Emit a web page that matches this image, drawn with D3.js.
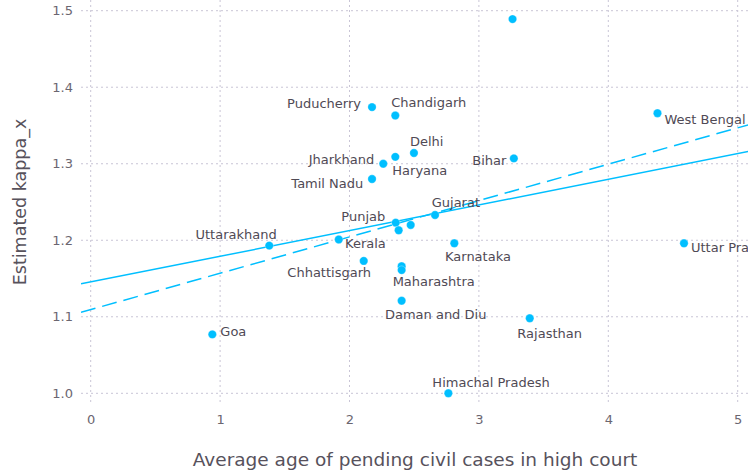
<!DOCTYPE html>
<html>
<head>
<meta charset="utf-8">
<script src="https://cdn.jsdelivr.net/npm/d3@7"></script>
<style>
  html, body { margin: 0; padding: 0; background: #fff; }
  svg { display: block; }
  text { font-family: "DejaVu Sans", Verdana, sans-serif; }
</style>
</head>
<body>
<svg id="chart" width="748" height="472"></svg>
<script>
// ---------- data ----------
const states = ["", "West Bengal", "Bihar", "Puducherry", "Chandigarh", "Delhi", "Jharkhand", "Haryana",
  "Tamil Nadu", "Gujarat", "Punjab", "", "", "Kerala", "Karnataka", "Chhattisgarh", "Maharashtra", "",
  "Daman and Diu", "Himachal Pradesh", "Rajasthan", "Uttar Pradesh", "Uttarakhand", "Goa"];
const avgAge = [3.26, 4.38, 3.27, 2.174, 2.354, 2.498, 2.261, 2.354,
  2.174, 2.661, 2.357, 2.473, 2.38, 1.917, 2.81, 2.11, 2.403, 2.403,
  2.403, 2.764, 3.393, 4.585, 1.38, 0.94];
const kappa = [1.489, 1.366, 1.307, 1.374, 1.363, 1.314, 1.300, 1.309,
  1.280, 1.233, 1.223, 1.220, 1.213, 1.201, 1.196, 1.173, 1.166, 1.161,
  1.121, 1.000, 1.098, 1.196, 1.193, 1.077];

const fitNames = ["solid", "dashed"];
const fitIntercepts = [1.1455, 1.1094];
const fitSlopes = [0.03356, 0.0475];

const xTicks = [0, 1, 2, 3, 4, 5];
const yTicks = [1.0, 1.1, 1.2, 1.3, 1.4, 1.5];
const xTitle = "Average age of pending civil cases in high court";
const yTitle = "Estimated kappa_x";

// ---------- label layout (pixel offsets from the point) ----------
const labelLayout = {
  "West Bengal": ["start", 7, 10.7],
  "Bihar": ["end", -7.5, 7],
  "Puducherry": ["end", -11, 1],
  "Chandigarh": ["start", -4, -8.6],
  "Delhi": ["start", -4, -6.6],
  "Jharkhand": ["end", -9, 0.5],
  "Haryana": ["start", -3, 18],
  "Tamil Nadu": ["end", -8.7, 9.3],
  "Gujarat": ["start", -3.3, -8.3],
  "Punjab": ["end", -10.4, -2],
  "Kerala": ["start", 6.3, 8.4],
  "Karnataka": ["start", -9.3, 17.4],
  "Chhattisgarh": ["end", 7.3, 16.5],
  "Maharashtra": ["start", -9, 20],
  "Daman and Diu": ["start", -16.7, 18],
  "Himachal Pradesh": ["start", -16, -6.6],
  "Rajasthan": ["start", -12.4, 19.3],
  "Uttar Pradesh": ["start", 7, 9],
  "Uttarakhand": ["end", 7.4, -7],
  "Goa": ["start", 8, 1.5]
};

// ---------- chart ----------
const svg = d3.select("#chart");
const plot = { left: 81, right: 756, top: 0, bottom: 403 };
const x = d3.scaleLinear().domain([0, 5]).range([90.7, 737.7]);
const y = d3.scaleLinear().domain([1.0, 1.5]).range([393.3, 10.7]);
const color = "#00bfff";
const gridColor = "#c9c5d6";

svg.append("defs").append("clipPath").attr("id", "clip")
  .append("rect").attr("x", plot.left).attr("y", plot.top)
  .attr("width", plot.right - plot.left).attr("height", plot.bottom - plot.top);

// grid
const grid = svg.append("g");
grid.selectAll("line.v").data(xTicks).join("line")
  .attr("x1", d => x(d)).attr("x2", d => x(d))
  .attr("y1", plot.top).attr("y2", plot.bottom)
  .attr("stroke", gridColor).attr("stroke-width", 1).attr("stroke-dasharray", "2,3");
grid.selectAll("line.h").data(yTicks).join("line")
  .attr("y1", d => y(d)).attr("y2", d => y(d))
  .attr("x1", plot.left).attr("x2", plot.right)
  .attr("stroke", gridColor).attr("stroke-width", 1).attr("stroke-dasharray", "2,3");

// axes via d3 axis generators (no domain lines)
const xAxis = svg.append("g").attr("transform", `translate(0,${plot.bottom})`)
  .call(d3.axisBottom(x).tickValues(xTicks).tickFormat(d3.format("d")).tickSize(0).tickPadding(12));
const yAxis = svg.append("g").attr("transform", `translate(${plot.left},0)`)
  .call(d3.axisLeft(y).tickValues(yTicks).tickFormat(d3.format(".1f")).tickSize(0).tickPadding(8));
[xAxis, yAxis].forEach(g => {
  g.select(".domain").remove();
  g.selectAll("text").attr("fill", "#6b6670").attr("font-size", 13)
    .attr("font-family", "DejaVu Sans, Verdana, sans-serif");
});

// fit lines
const xd = [x.invert(plot.left), x.invert(plot.right)];
const lines = svg.append("g").attr("clip-path", "url(#clip)");
fitNames.forEach((n, i) => {
  const pts = xd.map(v => [x(v), y(fitIntercepts[i] + fitSlopes[i] * v)]);
  lines.append("path")
    .attr("d", d3.line()(pts))
    .attr("fill", "none").attr("stroke", color).attr("stroke-width", 1.5)
    .attr("stroke-dasharray", n === "dashed" ? "15,7" : null);
});

// points
const idx = d3.range(states.length);
svg.append("g").attr("clip-path", "url(#clip)")
  .selectAll("circle").data(idx).join("circle")
  .attr("cx", i => x(avgAge[i])).attr("cy", i => y(kappa[i]))
  .attr("r", 4.2).attr("fill", color)
  .attr("stroke", "#ffffff").attr("stroke-width", 0.5).attr("stroke-opacity", 0.6);

// labels
svg.append("g").selectAll("text").data(idx.filter(i => states[i] && labelLayout[states[i]])).join("text")
  .attr("x", i => x(avgAge[i]) + labelLayout[states[i]][1])
  .attr("y", i => y(kappa[i]) + labelLayout[states[i]][2])
  .attr("text-anchor", i => labelLayout[states[i]][0])
  .attr("font-size", 13).attr("fill", "#4f4a55")
  .text(i => states[i]);

// axis titles
svg.append("text").attr("x", 415).attr("y", 466)
  .attr("text-anchor", "middle").attr("font-size", 18.5).attr("fill", "#57525c")
  .text(xTitle);
svg.append("text").attr("transform", `translate(26,202) rotate(-90)`)
  .attr("text-anchor", "middle").attr("font-size", 17.5).attr("fill", "#57525c")
  .text(yTitle);
</script>
</body>
</html>
